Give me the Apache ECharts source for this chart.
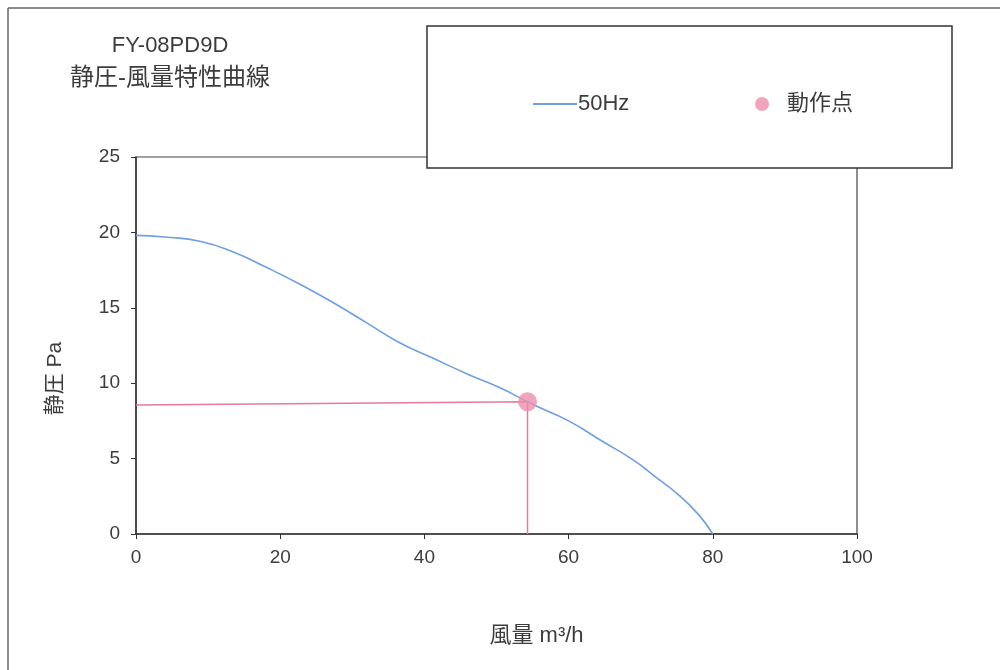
<!DOCTYPE html>
<html>
<head>
<meta charset="utf-8">
<script src="https://cdn.jsdelivr.net/npm/echarts@6/dist/echarts.min.js"></script>
<style>
html,body{margin:0;padding:0;background:#fff;}
#chart{width:1000px;height:670px;}
</style>
</head>
<body>
<div id="chart"></div>
<script>
// ---- data ----
const titleLines = ['FY-08PD9D', '静圧-風量特性曲線'];
const xTicks = [0, 20, 40, 60, 80, 100];
const yTicks = [0, 5, 10, 15, 20, 25];
const curveName = '50Hz';
const curveX = [0, 4, 9, 13.5, 18, 23, 27.5, 32, 36.5, 41, 46, 50.5, 55, 60, 64.5, 69, 72, 75, 78, 80];
const curveY = [19.8, 19.7, 19.4, 18.7, 17.7, 16.5, 15.3, 14.0, 12.7, 11.7, 10.6, 9.7, 8.6, 7.5, 6.2, 4.9, 3.8, 2.7, 1.3, 0];
const pointName = '動作点';
const pointX = [54.3];
const pointY = [8.77];
const guideX = [0, 54.3, 54.3];
const guideY = [8.55, 8.77, 0];
const xName = '風量 m³/h';
const yName = '静圧 Pa';

const FONT = '"Liberation Sans", "Noto Sans CJK JP", sans-serif';
const TXT = '#3c3c3c';

const chart = echarts.init(document.getElementById('chart'));
chart.setOption({
  backgroundColor: '#fff',
  animation: false,
  title: {
    text: '{a|' + titleLines[0] + '}\n{b|' + titleLines[1] + '}',
    left: 165,
    top: 24,
    textAlign: 'center',
    textStyle: {
      fontFamily: FONT, fontWeight: 'normal', color: TXT,
      rich: {
        a: { fontFamily: FONT, fontSize: 22, color: TXT, lineHeight: 33 },
        b: { fontFamily: FONT, fontSize: 24, color: TXT, lineHeight: 33 }
      }
    }
  },
  legend: [
    {
      data: [{ name: curveName, icon: 'rect' }], left: 528, top: 88, itemWidth: 44, itemHeight: 2,
      textStyle: { fontFamily: FONT, fontSize: 22, color: TXT, padding: [0, 0, 0, -4] }
    },
    {
      data: [{ name: pointName, icon: 'circle' }], left: 750, top: 88, itemWidth: 14, itemHeight: 14,
      textStyle: { fontFamily: FONT, fontSize: 22, color: TXT, padding: [0, 0, 0, 13] }
    }
  ],
  grid: { left: 136, right: 143, top: 157, bottom: 136, show: true, borderColor: '#444', borderWidth: 1.2, backgroundColor: 'transparent' },
  xAxis: {
    type: 'value', min: xTicks[0], max: xTicks[xTicks.length - 1], interval: xTicks[1] - xTicks[0],
    name: xName, nameLocation: 'middle', nameGap: 91,
    nameTextStyle: { fontFamily: FONT, fontSize: 22, color: TXT, padding: [0, 0, 0, 80] },
    axisLine: { show: true, lineStyle: { color: '#333', width: 1.5 } },
    axisTick: { show: true, length: 5, lineStyle: { color: '#333' } },
    axisLabel: { fontFamily: FONT, fontSize: 19, color: TXT, margin: 14 },
    splitLine: { show: false }
  },
  yAxis: {
    type: 'value', min: yTicks[0], max: yTicks[yTicks.length - 1], interval: yTicks[1] - yTicks[0],
    name: yName, nameLocation: 'middle', nameGap: 70,
    nameTextStyle: { fontFamily: FONT, fontSize: 21, color: TXT, padding: [0, 66, 0, 0] },
    axisLine: { show: true, lineStyle: { color: '#333', width: 1.5 } },
    axisTick: { show: true, length: 5, lineStyle: { color: '#333' } },
    axisLabel: { fontFamily: FONT, fontSize: 19, color: TXT, margin: 16 },
    splitLine: { show: false }
  },
  graphic: [
    { type: 'line', z: 1, shape: { x1: 8, y1: 8, x2: 1000, y2: 8 }, style: { stroke: '#666', lineWidth: 1.5 } },
    { type: 'line', z: 1, shape: { x1: 8, y1: 8, x2: 8, y2: 670 }, style: { stroke: '#666', lineWidth: 1.5 } },
    { type: 'rect', z: 3, shape: { x: 427, y: 26, width: 525, height: 142 }, style: { fill: '#fff', stroke: '#333', lineWidth: 1.5 } }
  ],
  series: [
    {
      name: 'guide', type: 'line', symbol: 'none', silent: true,
      data: guideX.map((x, i) => [x, guideY[i]]),
      lineStyle: { color: '#e57a9a', width: 1.5 }, z: 2
    },
    {
      name: curveName, type: 'line', smooth: true, symbol: 'none',
      data: curveX.map((x, i) => [x, curveY[i]]),
      itemStyle: { color: '#6e9fe0' },
      lineStyle: { color: '#6e9fe0', width: 1.6 }, z: 3
    },
    {
      name: pointName, type: 'scatter', symbol: 'circle', symbolSize: 19,
      data: pointX.map((x, i) => [x, pointY[i]]),
      itemStyle: { color: '#ec8fab' }, z: 4
    }
  ]
});
</script>
</body>
</html>
